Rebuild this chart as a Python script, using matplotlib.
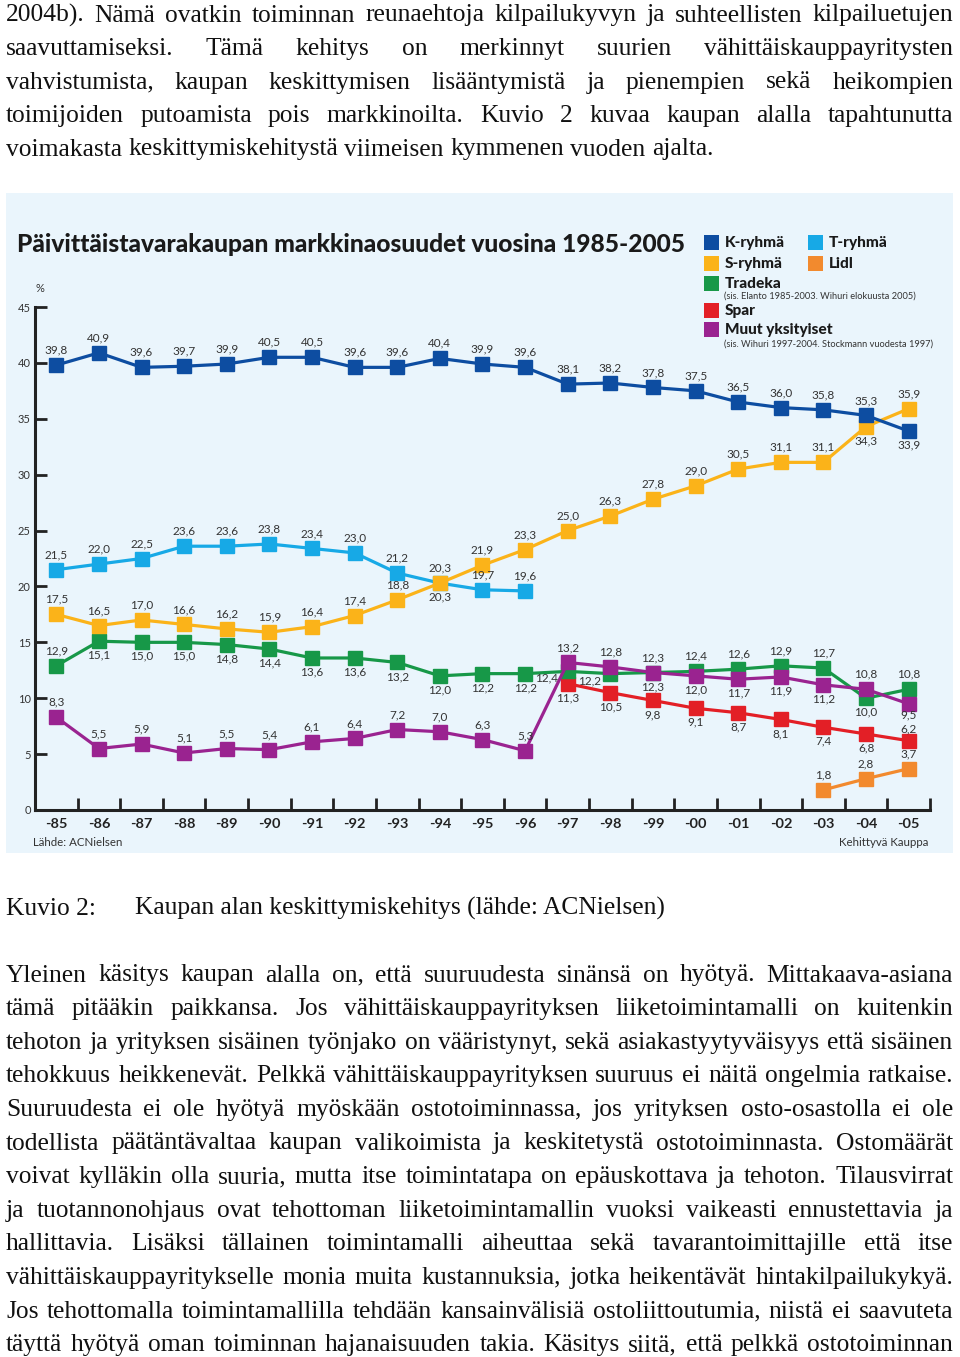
"""Page with a justified text block and the market share chart (Kuvio 2)."""
import matplotlib
matplotlib.use("Agg")
import matplotlib.pyplot as plt
from matplotlib.patches import Rectangle
import numpy as np

W, H = 960, 1357
SERIF = "Liberation Serif"
SANS = "Lato"

# ---- data ---------------------------------------------------------------
years = list(range(1985, 2006))
year_labels = ["-85", "-86", "-87", "-88", "-89", "-90", "-91", "-92", "-93", "-94", "-95",
               "-96", "-97", "-98", "-99", "-00", "-01", "-02", "-03", "-04", "-05"]

k_ryhma = [39.8, 40.9, 39.6, 39.7, 39.9, 40.5, 40.5, 39.6, 39.6, 40.4, 39.9,
           39.6, 38.1, 38.2, 37.8, 37.5, 36.5, 36.0, 35.8, 35.3, 33.9]
t_years = list(range(1985, 1997))
t_ryhma = [21.5, 22.0, 22.5, 23.6, 23.6, 23.8, 23.4, 23.0, 21.2, 20.3, 19.7, 19.6]
s_ryhma = [17.5, 16.5, 17.0, 16.6, 16.2, 15.9, 16.4, 17.4, 18.8, 20.3, 21.9,
           23.3, 25.0, 26.3, 27.8, 29.0, 30.5, 31.1, 31.1, 34.3, 35.9]
tradeka = [12.9, 15.1, 15.0, 15.0, 14.8, 14.4, 13.6, 13.6, 13.2, 12.0, 12.2,
           12.2, 12.4, 12.2, 12.3, 12.4, 12.6, 12.9, 12.7, 10.0, 10.8]
spar_years = list(range(1997, 2006))
spar = [11.3, 10.5, 9.8, 9.1, 8.7, 8.1, 7.4, 6.8, 6.2]
muut = [8.3, 5.5, 5.9, 5.1, 5.5, 5.4, 6.1, 6.4, 7.2, 7.0, 6.3,
        5.3, 13.2, 12.8, 12.3, 12.0, 11.7, 11.9, 11.2, 10.8, 9.5]
lidl_years = [2003, 2004, 2005]
lidl = [1.8, 2.8, 3.7]

# label placement per point: a = above, b = below, l = left, A/B = tight above/below
k_pos = "a" * 20 + "b"
t_pos = "a" * 12
s_pos = "a" * 9 + "b" + "a" * 9 + "b" + "a"
tradeka_pos = "a" + "b" * 11 + "ll" + "a" * 5 + "b" + "a"
muut_pos = "a" * 14 + "b" * 5 + "a" + "B"
spar_pos = "b" * 8 + "A"
lidl_pos = "aaa"

top_lines = [
    "2004b). Nämä ovatkin toiminnan reunaehtoja kilpailukyvyn ja suhteellisten kilpailuetujen",
    "saavuttamiseksi. Tämä kehitys on merkinnyt suurien vähittäiskauppayritysten",
    "vahvistumista, kaupan keskittymisen lisääntymistä ja pienempien sekä heikompien",
    "toimijoiden putoamista pois markkinoilta. Kuvio 2 kuvaa kaupan alalla tapahtunutta",
    "voimakasta keskittymiskehitystä viimeisen kymmenen vuoden ajalta.",
]
body_lines = [
    "Yleinen käsitys kaupan alalla on, että suuruudesta sinänsä on hyötyä. Mittakaava-asiana",
    "tämä pitääkin paikkansa. Jos vähittäiskauppayrityksen liiketoimintamalli on kuitenkin",
    "tehoton ja yrityksen sisäinen työnjako on vääristynyt, sekä asiakastyytyväisyys että sisäinen",
    "tehokkuus heikkenevät. Pelkkä vähittäiskauppayrityksen suuruus ei näitä ongelmia ratkaise.",
    "Suuruudesta ei ole hyötyä myöskään ostotoiminnassa, jos yrityksen osto-osastolla ei ole",
    "todellista päätäntävaltaa kaupan valikoimista ja keskitetystä ostotoiminnasta. Ostomäärät",
    "voivat kylläkin olla suuria, mutta itse toimintatapa on epäuskottava ja tehoton. Tilausvirrat",
    "ja tuotannonohjaus ovat tehottoman liiketoimintamallin vuoksi vaikeasti ennustettavia ja",
    "hallittavia. Lisäksi tällainen toimintamalli aiheuttaa sekä tavarantoimittajille että itse",
    "vähittäiskauppayritykselle monia muita kustannuksia, jotka heikentävät hintakilpailukykyä.",
    "Jos tehottomalla toimintamallilla tehdään kansainvälisiä ostoliittoutumia, niistä ei saavuteta",
    "täyttä hyötyä oman toiminnan hajanaisuuden takia. Käsitys siitä, että pelkkä ostotoiminnan",
]

fig = plt.figure(figsize=(W / 100, H / 100), dpi=100)
fig.patch.set_facecolor("white")
renderer = fig.canvas.get_renderer()


def fx(x):
    return x / W


def fy(y):
    return 1 - y / H


def text_width(s, **kw):
    t = fig.text(0, 0, s, **kw)
    w = t.get_window_extent(renderer).width
    t.remove()
    return w


def fit_size(s, width, **kw):
    return 10 * width / text_width(s, size=10, **kw)


def put_line(line, y, size, justify=True, x0=6, x1=953):
    words = line.split()
    widths = [text_width(w, size=size, family=SERIF) for w in words]
    if justify and len(words) > 1:
        gap = (x1 - x0 - sum(widths)) / (len(words) - 1)
    else:
        gap = text_width("a a", size=size, family=SERIF) - text_width("aa", size=size, family=SERIF)
    x = x0
    for w, wd in zip(words, widths):
        fig.text(fx(x), fy(y), w, size=size, family=SERIF, color="#111111",
                 ha="left", va="baseline")
        x += wd + gap


# ---- document text ------------------------------------------------------
body_size = fit_size(top_lines[-1], 708, family=SERIF)
for i, line in enumerate(top_lines):
    put_line(line, 21.5 + 33.5 * i, body_size, justify=i < len(top_lines) - 1)

fig.text(fx(6), fy(915), "Kuvio 2:", size=body_size, family=SERIF, color="#111111", va="baseline")
fig.text(fx(135), fy(915), "Kaupan alan keskittymiskehitys (lähde: ACNielsen)",
         size=body_size, family=SERIF, color="#111111", va="baseline")

for i, line in enumerate(body_lines):
    put_line(line, 981.5 + 33.6 * i, body_size, justify=True)

# ---- chart panel --------------------------------------------------------
fig.patches.append(Rectangle((fx(6), fy(853)), (953 - 6) / W, (853 - 193) / H,
                             transform=fig.transFigure, facecolor="#EAF5FC",
                             edgecolor="none", zorder=-5))

title = "Päivittäistavarakaupan markkinaosuudet vuosina 1985-2005"
title_size = fit_size(title, 669, family=SANS, weight="black")
fig.text(fx(17), fy(244), title, size=title_size, family=SANS, weight="black",
         color="#1a1a1a", va="center", ha="left")

ax = fig.add_axes([fx(35), fy(810), (930 - 35) / W, (810 - 307) / H])
ax.set_zorder(2)
ax.patch.set_alpha(0)
ax.set_xlim(1984.5, 2005.5)
ax.set_ylim(0, 45)
for s in ["top", "right"]:
    ax.spines[s].set_visible(False)
for s in ["left", "bottom"]:
    ax.spines[s].set_linewidth(2.2)
    ax.spines[s].set_color("#222222")

label_size = fit_size("39,8", 23, family=SANS)
tick_size = fit_size("45", 13, family=SANS)
year_size = fit_size("-85", 22, family=SANS, weight="bold")

ax.set_yticks(range(0, 46, 5))
ax.set_yticklabels([str(v) for v in range(0, 46, 5)], family=SANS, size=tick_size, color="#333333")
ax.tick_params(axis="y", direction="in", length=8.6, width=2, color="#222222", pad=3)
ax.set_xticks(years)
ax.set_xticklabels(year_labels, family=SANS, weight="bold", size=year_size, color="#222222")
ax.set_xticks(np.arange(1985.5, 2006, 1), minor=True)
ax.tick_params(axis="x", which="major", length=0, pad=6)
ax.tick_params(axis="x", which="minor", direction="in", length=8.6, width=2, color="#222222")

fig.text(fx(40), fy(289), "%", size=tick_size, family=SANS, color="#333333", ha="center", va="center")

OFFSETS = {"a": (0, 15), "b": (0, -14), "l": (-21, -7), "A": (0, 12), "B": (0, -11)}

series = [
    (lidl_years, lidl, "#F28A2E", lidl_pos),
    (spar_years, spar, "#E31F26", spar_pos),
    (years, tradeka, "#179848", tradeka_pos),
    (years, muut, "#9A2390", muut_pos),
    (t_years, t_ryhma, "#17A9E6", t_pos),
    (years, s_ryhma, "#FBB319", s_pos),
    (years, k_ryhma, "#0D4DA1", k_pos),
]
for xs, ys, color, pos in series:
    ax.plot(xs, ys, color=color, lw=2.3, marker="s", ms=10, mfc=color, mec=color, clip_on=False)
    for x, y, p in zip(xs, ys, pos):
        dx, dy = OFFSETS[p]
        ax.annotate(f"{y:.1f}".replace(".", ","), (x, y), xytext=(dx, dy),
                    textcoords="offset pixels", ha="center", va="center",
                    family=SANS, size=label_size, color="#333333")

# ---- legend -------------------------------------------------------------
legend_size = fit_size("Muut yksityiset", 108, family=SANS, weight="black")
legend = [
    ("K-ryhmä", "#0D4DA1", 704, 243),
    ("T-ryhmä", "#17A9E6", 808, 243),
    ("S-ryhmä", "#FBB319", 704, 264),
    ("Lidl", "#F28A2E", 808, 264),
    ("Tradeka", "#179848", 704, 284),
    ("Spar", "#E31F26", 704, 311),
    ("Muut yksityiset", "#9A2390", 704, 330),
]
for name, color, x, y in legend:
    fig.patches.append(Rectangle((fx(x), fy(y + 7)), 15 / W, 15 / H, transform=fig.transFigure,
                                 facecolor=color, edgecolor="none"))
    fig.text(fx(x + 21), fy(y), name, size=legend_size, family=SANS, weight="black",
             color="#1a1a1a", ha="left", va="center")

note_size = fit_size("(sis. Elanto 1985-2003. Wihuri elokuusta 2005)", 192, family=SANS)
fig.text(fx(724), fy(296), "(sis. Elanto 1985-2003. Wihuri elokuusta 2005)",
         size=note_size, family=SANS, color="#333333", ha="left", va="center")
fig.text(fx(724), fy(344), "(sis. Wihuri 1997-2004. Stockmann vuodesta 1997)",
         size=note_size, family=SANS, color="#333333", ha="left", va="center")

src_size = fit_size("Lähde: ACNielsen", 90, family=SANS)
fig.text(fx(33), fy(842), "Lähde: ACNielsen", size=src_size, family=SANS, color="#333333",
         ha="left", va="center")
fig.text(fx(928), fy(843), "Kehittyvä Kauppa", size=src_size, family=SANS, color="#333333",
         ha="right", va="center")

fig.savefig("out.png", dpi=100)
